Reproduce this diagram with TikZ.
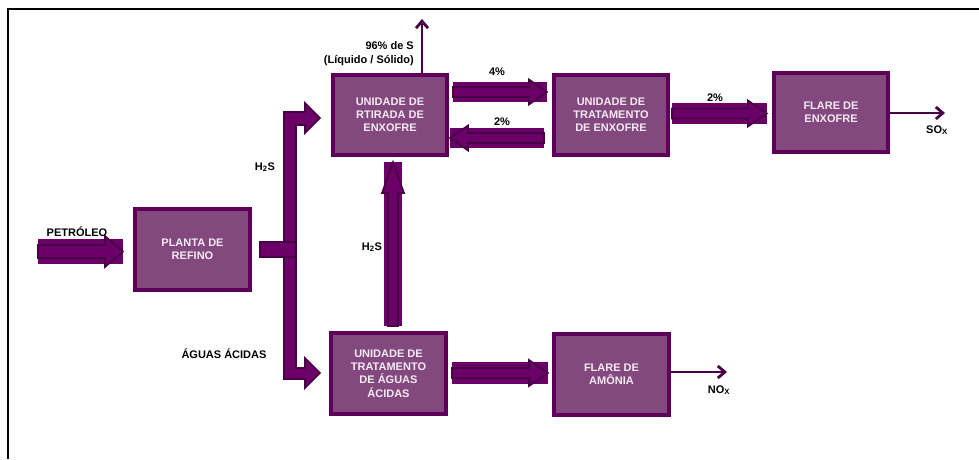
\documentclass[tikz,border=0pt]{standalone}
\usepackage{fontspec}
\setmainfont{Liberation Sans}
\usetikzlibrary{calc,arrows.meta}
\definecolor{boxfill}{HTML}{83497F}
\definecolor{boxedge}{HTML}{5E005A}
\definecolor{ac1}{HTML}{6A0068}
\definecolor{ac2}{HTML}{480045}
\definecolor{boxtext}{HTML}{F4EAF4}
\tikzset{
  unit/.style={draw=boxedge, fill=boxfill, line width=4pt, text=boxtext,
    font=\fontsize{11}{13.2}\selectfont\bfseries, align=center, inner sep=0pt},
  lbl/.style={font=\fontsize{11}{12}\selectfont\bfseries, inner sep=0pt},
  flow/.style={draw=ac2, line width=2.8pt, -{Straight Barb[length=7pt,width=12pt]}},
  bshape/.style={draw=ac2, fill=ac1, line width=1.6pt, line join=miter},
  bback/.style={fill=ac1},
}
% horizontal block arrow: start, tip, rect hw, shaft hw, head hw, head length
\newcommand\hblock[6]{%
  \fill[bback] let \p1=#1, \p2=#2 in (\x1,{\y1-#3}) rectangle (\x2,{\y1+#3});
  \draw[bshape] let \p1=#1, \p2=#2, \n1={#6*sign(\x2-\x1)} in
    (\x1,{\y1-#4}) -- ({\x2-(\n1)*1pt},{\y1-#4}) -- ({\x2-(\n1)*1pt},{\y1-#5})
    -- (\x2,\y1) -- ({\x2-(\n1)*1pt},{\y1+#5}) -- ({\x2-(\n1)*1pt},{\y1+#4})
    -- (\x1,{\y1+#4}) -- cycle;
}
% vertical block arrow
\newcommand\vblock[6]{%
  \fill[bback] let \p1=#1, \p2=#2 in ({\x1-#3},\y1) rectangle ({\x1+#3},\y2);
  \draw[bshape] let \p1=#1, \p2=#2, \n1={#6*sign(\y2-\y1)} in
    ({\x1-#4},\y1) -- ({\x1-#4},{\y2-(\n1)*1pt}) -- ({\x1-#5},{\y2-(\n1)*1pt})
    -- (\x1,\y2) -- ({\x1+#5},{\y2-(\n1)*1pt}) -- ({\x1+#4},{\y2-(\n1)*1pt})
    -- ({\x1+#4},\y1) -- cycle;
}
\begin{document}
\begin{tikzpicture}[x=1pt,y=-1pt]
\useasboundingbox (0,0) rectangle (979,459);
% frame
\draw[line width=2pt] (7.5,459) -- (7.5,9) -- (979,9);

% units
\node[unit, minimum width=115pt, minimum height=81pt] (refino) at (192.5,249.5) {PLANTA DE\\REFINO};
\node[unit, minimum width=114pt, minimum height=80pt] (retirada) at (390,115) {UNIDADE DE\\RTIRADA DE\\ENXOFRE};
\node[unit, minimum width=114pt, minimum height=80pt] (tratS) at (611,115) {UNIDADE DE\\TRATAMENTO\\DE ENXOFRE};
\node[unit, minimum width=114pt, minimum height=79pt] (flareS) at (831,112.5) {FLARE DE\\ENXOFRE};
\node[unit, minimum width=115pt, minimum height=81pt] (aguas) at (388.5,373.5) {UNIDADE DE\\TRATAMENTO\\DE ÁGUAS\\ÁCIDAS};
\node[unit, minimum width=115pt, minimum height=81pt] (amonia) at (611.5,374.5) {FLARE DE\\AMÔNIA};

% block arrows
\coordinate (p0) at (38,251.5);
\hblock{(p0)}{($(refino.west)+(-10,2)$)}{12.5pt}{6.5pt}{15.5pt}{18}
\hblock{($(retirada.east)+(4,-23)$)}{($(tratS.west)+(-5,-23)$)}{10pt}{5pt}{12.5pt}{18}
\hblock{($(tratS.west)+(-8,23)$)}{($(retirada.east)+(1,23)$)}{10pt}{5pt}{12.5pt}{18}
\hblock{($(tratS.east)+(2,-1.5)$)}{($(flareS.west)+(-5,1)$)}{10.5pt}{5pt}{13pt}{19}
\hblock{($(aguas.east)+(4,-0.5)$)}{($(amonia.west)+(-4,-1.5)$)}{11pt}{5pt}{13pt}{19}
\vblock{($(aguas.north)+(4.5,-5)$)}{($(retirada.south)+(3,5)$)}{9pt}{5pt}{11pt}{31}

% refinery outlet split
\draw[bshape] (284,112) -- (305,112) -- (305,103) -- (320,118) -- (305,133) -- (305,125)
  -- (296,125) -- (296,368) -- (305,368) -- (305,358) -- (320,373) -- (305,388)
  -- (305,379) -- (284,379) -- cycle;
\draw[bshape] ($(refino.east)+(8,-7.5)$) rectangle ($(refino.east)+(44,7.5)$);

% thin outlet arrows
\coordinate (s96) at (422,19);
\draw[flow] (retirada.north -| s96) -- (s96);
\coordinate (soxend) at (945,113);
\draw[flow] (flareS.east |- soxend) -- (soxend);
\coordinate (noxend) at (727,372);
\draw[flow] (amonia.east |- noxend) -- (noxend);

% labels
\node[lbl, anchor=east] (l96) at (414,46) {96\% de S};
\node[lbl, anchor=east] (lliq) at (414,61) {(Líquido / Sólido)};
\node[lbl] (l4) at (497,72) {4\%};
\node[lbl] (l2a) at (502,122) {2\%};
\node[lbl] (l2b) at (715,98) {2\%};
\node[lbl] (lsox) at (937,130) {SO\textsubscript{X}};
\node[lbl] (lnox) at (719,390) {NO\textsubscript{X}};
\node[lbl] (lh2sa) at (265,167) {H\textsubscript{2}S};
\node[lbl] (lh2sb) at (372,247) {H\textsubscript{2}S};
\node[lbl] (lagua) at (224,354) {ÁGUAS ÁCIDAS};
\node[lbl] (lpet) at (77,232) {PETRÓLEO};
\end{tikzpicture}
\end{document}
